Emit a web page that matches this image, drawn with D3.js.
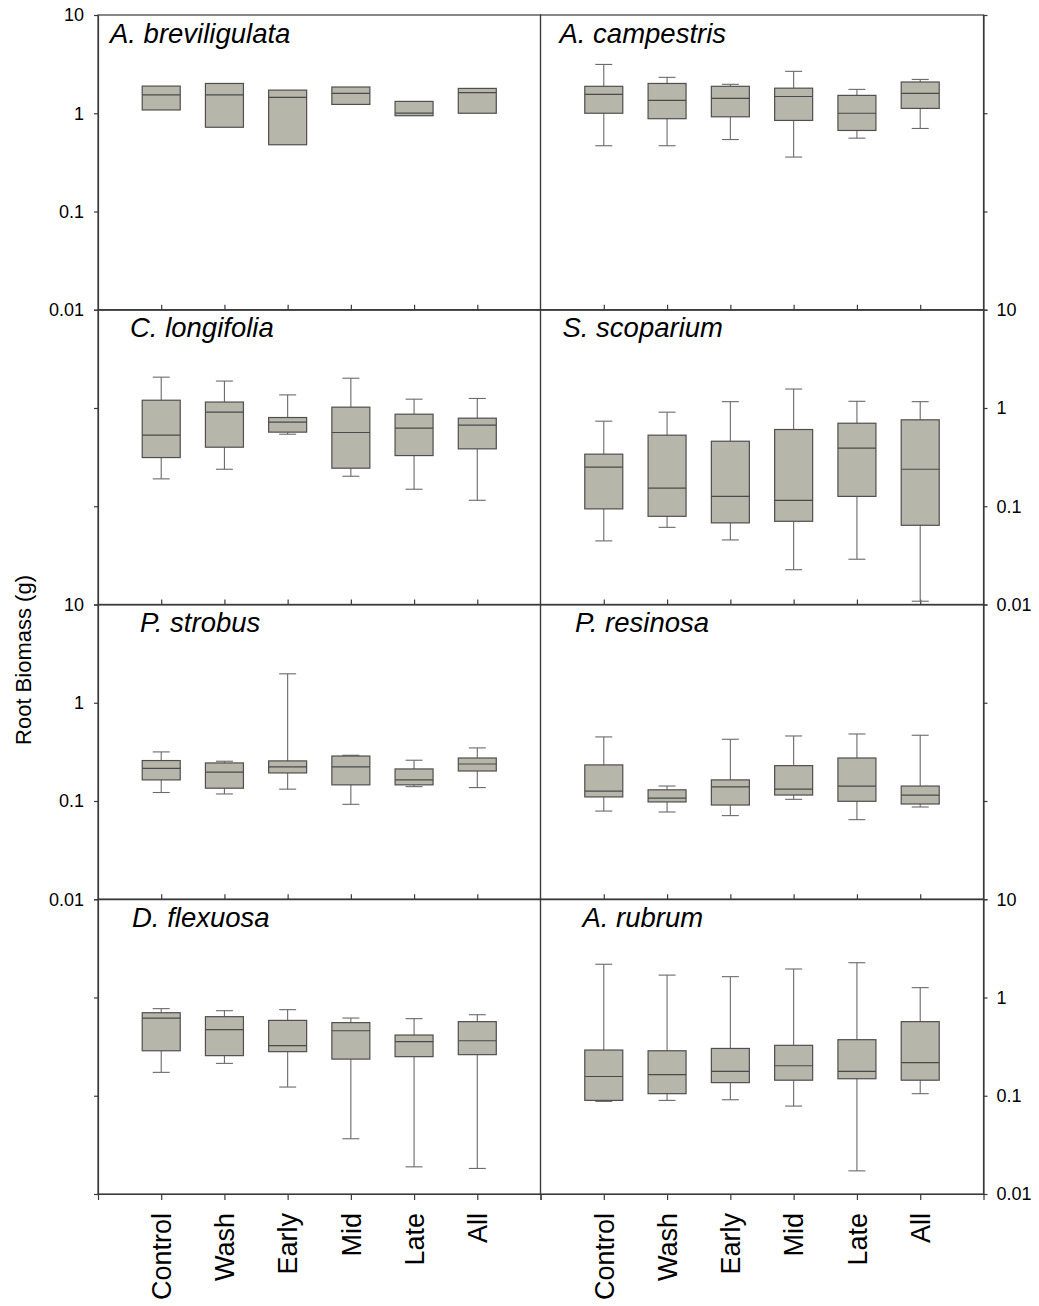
<!DOCTYPE html>
<html><head><meta charset="utf-8">
<script src="https://cdn.jsdelivr.net/npm/d3@7"></script>
<style>body{margin:0;background:#fff}svg{display:block}</style>
</head><body>
<svg id="c" width="1039" height="1306"></svg>
<script>
// ---------- data ----------
const categories = ["Control", "Wash", "Early", "Mid", "Late", "All"];
const species = ["A. breviligulata", "A. campestris", "C. longifolia", "S. scoparium",
                 "P. strobus", "P. resinosa", "D. flexuosa", "A. rubrum"];
const tickValues = [10, 1, 0.1, 0.01];
const tickLabels = ["10", "1", "0.1", "0.01"];
const yTitle = "Root Biomass (g)";

// whisker low, Q1, median, Q3, whisker high (per species, per category)
const whiskerLow = [
  [1.08, 0.72, 0.478, 1.23, 0.944, 1.0],
  [0.467, 0.467, 0.54, 0.358, 0.558, 0.70],
  [0.19, 0.238, 0.541, 0.202, 0.149, 0.115],
  [0.0444, 0.061, 0.0454, 0.0226, 0.0289, 0.0108],
  [0.122, 0.118, 0.132, 0.0925, 0.14, 0.137],
  [0.079, 0.0773, 0.071, 0.104, 0.0646, 0.0869],
  [0.173, 0.2135, 0.1226, 0.0365, 0.0189, 0.0182],
  [0.0876, 0.0897, 0.091, 0.0785, 0.0172, 0.105]
];
const q1 = [
  [1.08, 0.72, 0.478, 1.23, 0.944, 1.0],
  [1.0, 0.88, 0.92, 0.845, 0.668, 1.12],
  [0.313, 0.399, 0.568, 0.244, 0.328, 0.384],
  [0.094, 0.079, 0.0677, 0.0703, 0.126, 0.064],
  [0.164, 0.135, 0.193, 0.146, 0.146, 0.202],
  [0.11, 0.0978, 0.091, 0.115, 0.0993, 0.0932],
  [0.287, 0.256, 0.281, 0.236, 0.25, 0.262],
  [0.0897, 0.105, 0.136, 0.144, 0.149, 0.144]
];
const median = [
  [1.54, 1.54, 1.45, 1.59, 1.005, 1.62],
  [1.56, 1.35, 1.42, 1.48, 1.0, 1.59],
  [0.529, 0.907, 0.718, 0.563, 0.623, 0.668],
  [0.25, 0.153, 0.126, 0.115, 0.39, 0.238],
  [0.215, 0.197, 0.222, 0.222, 0.164, 0.238],
  [0.126, 0.107, 0.139, 0.132, 0.142, 0.115],
  [0.618, 0.47, 0.323, 0.459, 0.355, 0.363],
  [0.157, 0.164, 0.177, 0.202, 0.177, 0.217]
];
const q3 = [
  [1.89, 2.01, 1.72, 1.85, 1.32, 1.79],
  [1.88, 2.01, 1.88, 1.80, 1.52, 2.08],
  [1.20, 1.15, 0.80, 1.02, 0.865, 0.788],
  [0.339, 0.529, 0.459, 0.604, 0.70, 0.758],
  [0.258, 0.244, 0.256, 0.287, 0.212, 0.274],
  [0.233, 0.13, 0.164, 0.229, 0.274, 0.142],
  [0.70, 0.638, 0.585, 0.555, 0.415, 0.568],
  [0.292, 0.287, 0.303, 0.326, 0.372, 0.568]
];
const whiskerHigh = [
  [1.89, 2.01, 1.72, 1.85, 1.32, 1.79],
  [3.14, 2.32, 1.97, 2.67, 1.75, 2.21],
  [2.06, 1.88, 1.36, 2.01, 1.23, 1.25],
  [0.734, 0.907, 1.16, 1.56, 1.17, 1.16],
  [0.316, 0.254, 1.97, 0.292, 0.26, 0.347],
  [0.449, 0.142, 0.425, 0.459, 0.481, 0.467],
  [0.77, 0.734, 0.752, 0.618, 0.609, 0.668],
  [2.18, 1.69, 1.63, 1.95, 2.26, 1.26]
];

// ---------- layout ----------
const colX = [[98, 540.5], [540.5, 983.5]];
const rowY = [15, 309.75, 604.5, 899.25, 1194];
const titleDx = [12, 19, 32, 22, 42, 34.5, 34, 42];
const boxW = 38, capW = 17;
const font = "'Liberation Sans', Arial, Helvetica, sans-serif";
const lineCol = "#3a3a3a";

const svg = d3.select("#c");

species.forEach((name, p) => {
  const row = Math.floor(p / 2), col = p % 2;
  const x = d3.scaleLinear().domain([0, 7]).range(colX[col]);
  const y = d3.scaleLog().domain([0.01, 10]).range([rowY[row + 1], rowY[row]]);
  const g = svg.append("g");

  // frame
  g.append("rect")
    .attr("x", x(0)).attr("y", y(10))
    .attr("width", x(7) - x(0)).attr("height", y(0.01) - y(10))
    .attr("fill", "none").attr("stroke", lineCol).attr("stroke-width", 1.2);

  // y axis
  const showLabels = (col === 0 && row % 2 === 0) || (col === 1 && row % 2 === 1);
  const fmt = d => showLabels ? tickLabels[tickValues.indexOf(d)] : "";
  const yAxis = (col === 0 ? d3.axisLeft(y) : d3.axisRight(y))
    .tickValues(tickValues).tickFormat(fmt).tickSize(4).tickSizeOuter(0)
    .tickPadding(col === 0 ? 10 : 9);
  const ya = g.append("g")
    .attr("transform", `translate(${col === 0 ? x(0) : x(7)},0)`)
    .call(yAxis);
  ya.select(".domain").attr("stroke", lineCol).attr("stroke-width", 1.2);
  ya.selectAll(".tick line").attr("stroke", lineCol).attr("stroke-width", 1.2);
  ya.selectAll(".tick text").attr("font-family", font).attr("font-size", 18).attr("fill", "#000");

  // x axis
  let xAxis;
  if (row === 3) {
    xAxis = d3.axisBottom(x).tickValues(d3.range(0, 8)).tickFormat("").tickSize(6).tickSizeOuter(0);
  } else {
    xAxis = d3.axisBottom(x).tickValues(d3.range(1, 7)).tickFormat("").tickSize(-5).tickSizeOuter(0);
  }
  const xa = g.append("g").attr("transform", `translate(0,${y(0.01)})`).call(xAxis);
  xa.select(".domain").attr("stroke", lineCol).attr("stroke-width", 1.2);
  xa.selectAll(".tick line").attr("stroke", lineCol).attr("stroke-width", 1.2);

  if (row === 3) {
    g.selectAll("text.cat").data(categories).join("text")
      .attr("class", "cat")
      .attr("transform", (d, i) => `translate(${x(i + 1)},${y(0.01) + 19}) rotate(-90)`)
      .attr("text-anchor", "end").attr("dy", "0.36em")
      .attr("font-family", font).attr("font-size", 27).attr("fill", "#000")
      .text(d => d);
  }

  // boxes
  const items = categories.map((c, i) => ({
    i, lo: whiskerLow[p][i], a: q1[p][i], m: median[p][i], b: q3[p][i], hi: whiskerHigh[p][i]
  }));
  const bx = g.selectAll("g.box").data(items).join("g").attr("class", "box");
  bx.each(function(d) {
    const s = d3.select(this), cx = x(d.i + 1);
    if (d.hi > d.b) {
      s.append("line").attr("x1", cx).attr("x2", cx).attr("y1", y(d.b)).attr("y2", y(d.hi))
        .attr("stroke", "#6a6a6a").attr("stroke-width", 1.1);
      s.append("line").attr("x1", cx - capW / 2).attr("x2", cx + capW / 2).attr("y1", y(d.hi)).attr("y2", y(d.hi))
        .attr("stroke", "#6a6a6a").attr("stroke-width", 1.1);
    }
    if (d.lo < d.a) {
      s.append("line").attr("x1", cx).attr("x2", cx).attr("y1", y(d.a)).attr("y2", y(d.lo))
        .attr("stroke", "#6a6a6a").attr("stroke-width", 1.1);
      s.append("line").attr("x1", cx - capW / 2).attr("x2", cx + capW / 2).attr("y1", y(d.lo)).attr("y2", y(d.lo))
        .attr("stroke", "#6a6a6a").attr("stroke-width", 1.1);
    }
    s.append("rect").attr("x", cx - boxW / 2).attr("width", boxW)
      .attr("y", y(d.b)).attr("height", y(d.a) - y(d.b))
      .attr("fill", "#b6b6aa").attr("stroke", "#4f4f4f").attr("stroke-width", 1.2);
    s.append("line").attr("x1", cx - boxW / 2).attr("x2", cx + boxW / 2).attr("y1", y(d.m)).attr("y2", y(d.m))
      .attr("stroke", "#4a4a4a").attr("stroke-width", 1.2);
  });

  // title
  g.append("text").attr("x", x(0) + titleDx[p]).attr("y", y(10) + 27.5)
    .attr("font-family", font).attr("font-style", "italic").attr("font-size", 27.5)
    .attr("fill", "#000").text(name);
});

// y title
svg.append("text")
  .attr("transform", "translate(31,660) rotate(-90)")
  .attr("text-anchor", "middle")
  .attr("font-family", font).attr("font-size", 22).attr("fill", "#000")
  .text(yTitle);
</script>
</body></html>
